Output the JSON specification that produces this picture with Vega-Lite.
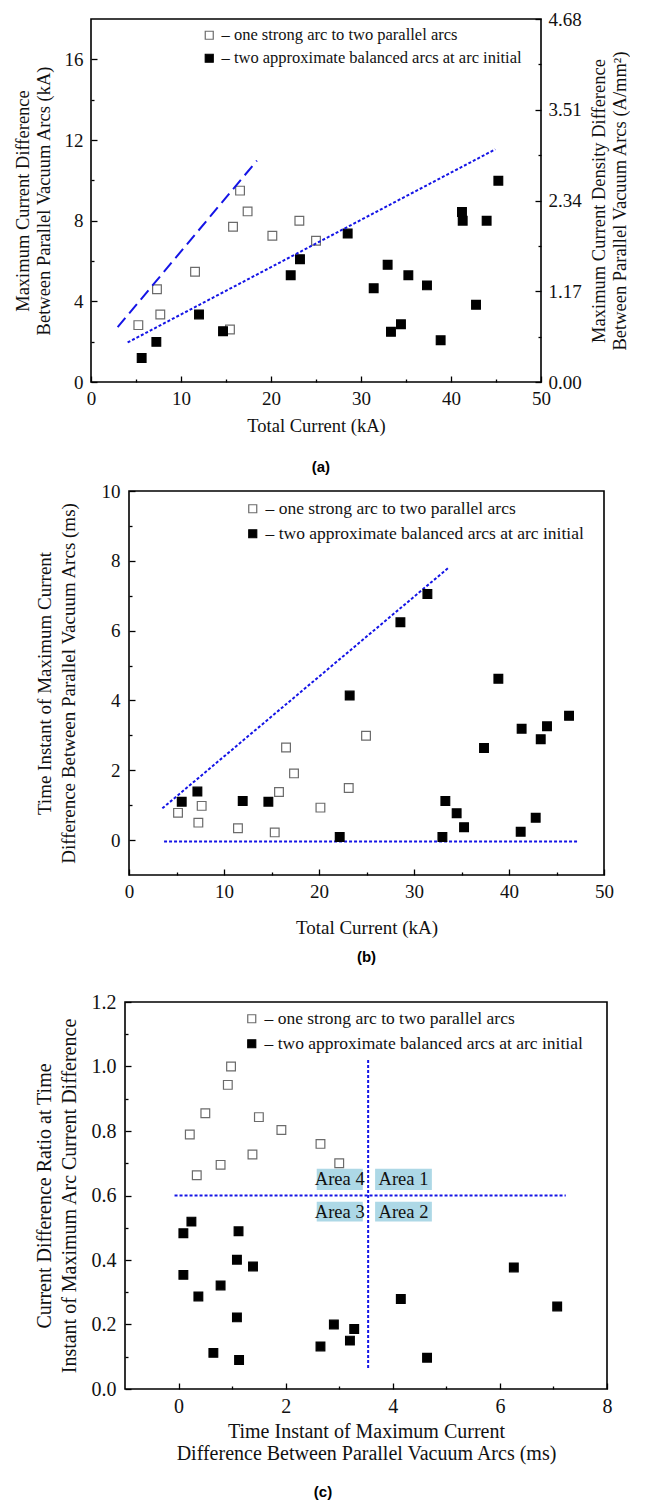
{
  "$schema": "https://vega.github.io/schema/vega-lite/v6.json",
  "padding": {"left": 11, "top": 9, "right": 0, "bottom": 0},
  "background": "white",
  "config": {
    "view": {"stroke": "black", "strokeWidth": 1.6},
    "font": "Liberation Serif",
    "axis": {
      "domain": false, "grid": false,
      "labelFont": "Liberation Serif", "labelFontSize": 19, "labelColor": "#111111",
      "titleFont": "Liberation Serif", "titleFontSize": 18.5, "titleFontWeight": "normal", "titleColor": "#111111",
      "tickColor": "black", "tickWidth": 1.3, "labelFlush": false, "labelOverlap": false
    },
    "legend": {
      "labelFont": "Liberation Serif", "labelFontSize": 16.5, "labelColor": "#111111", "labelLimit": 600,
      "symbolType": "square", "symbolSize": 64, "symbolStrokeWidth": 1.2,
      "labelOffset": 4, "rowPadding": 6, "padding": 0
    },
    "title": {"font": "Liberation Sans", "fontWeight": "bold", "fontSize": 15, "color": "black"}
  },
  "datasets": {
    "a_pts": [
      {"I": 5.26, "dI": 2.82, "type": "one strong arc to two parallel arcs"},
      {"I": 7.33, "dI": 4.6, "type": "one strong arc to two parallel arcs"},
      {"I": 7.7, "dI": 3.35, "type": "one strong arc to two parallel arcs"},
      {"I": 11.56, "dI": 5.47, "type": "one strong arc to two parallel arcs"},
      {"I": 15.44, "dI": 2.6, "type": "one strong arc to two parallel arcs"},
      {"I": 15.78, "dI": 7.7, "type": "one strong arc to two parallel arcs"},
      {"I": 16.56, "dI": 9.49, "type": "one strong arc to two parallel arcs"},
      {"I": 17.4, "dI": 8.46, "type": "one strong arc to two parallel arcs"},
      {"I": 20.15, "dI": 7.25, "type": "one strong arc to two parallel arcs"},
      {"I": 23.15, "dI": 8.0, "type": "one strong arc to two parallel arcs"},
      {"I": 25.0, "dI": 7.0, "type": "one strong arc to two parallel arcs"},
      {"I": 5.63, "dI": 1.19, "type": "two approximate balanced arcs at arc initial"},
      {"I": 7.26, "dI": 1.99, "type": "two approximate balanced arcs at arc initial"},
      {"I": 12.0, "dI": 3.35, "type": "two approximate balanced arcs at arc initial"},
      {"I": 14.67, "dI": 2.52, "type": "two approximate balanced arcs at arc initial"},
      {"I": 22.19, "dI": 5.29, "type": "two approximate balanced arcs at arc initial"},
      {"I": 23.22, "dI": 6.09, "type": "two approximate balanced arcs at arc initial"},
      {"I": 28.52, "dI": 7.36, "type": "two approximate balanced arcs at arc initial"},
      {"I": 31.41, "dI": 4.65, "type": "two approximate balanced arcs at arc initial"},
      {"I": 32.96, "dI": 5.81, "type": "two approximate balanced arcs at arc initial"},
      {"I": 33.33, "dI": 2.49, "type": "two approximate balanced arcs at arc initial"},
      {"I": 34.44, "dI": 2.86, "type": "two approximate balanced arcs at arc initial"},
      {"I": 35.26, "dI": 5.29, "type": "two approximate balanced arcs at arc initial"},
      {"I": 37.33, "dI": 4.79, "type": "two approximate balanced arcs at arc initial"},
      {"I": 38.85, "dI": 2.07, "type": "two approximate balanced arcs at arc initial"},
      {"I": 41.22, "dI": 8.43, "type": "two approximate balanced arcs at arc initial"},
      {"I": 41.3, "dI": 8.0, "type": "two approximate balanced arcs at arc initial"},
      {"I": 42.78, "dI": 3.83, "type": "two approximate balanced arcs at arc initial"},
      {"I": 43.96, "dI": 8.0, "type": "two approximate balanced arcs at arc initial"},
      {"I": 45.26, "dI": 9.98, "type": "two approximate balanced arcs at arc initial"}
    ],
    "a_lines": [
      {"line": "dashed", "I": 2.96, "dI": 2.72},
      {"line": "dashed", "I": 18.44, "dI": 10.98},
      {"line": "dotted", "I": 4.07, "dI": 1.96},
      {"line": "dotted", "I": 44.93, "dI": 11.54}
    ],
    "b_pts": [
      {"I": 5.16, "t": 0.78, "type": "one strong arc to two parallel arcs"},
      {"I": 7.3, "t": 0.5, "type": "one strong arc to two parallel arcs"},
      {"I": 7.65, "t": 0.98, "type": "one strong arc to two parallel arcs"},
      {"I": 11.47, "t": 0.34, "type": "one strong arc to two parallel arcs"},
      {"I": 15.34, "t": 0.22, "type": "one strong arc to two parallel arcs"},
      {"I": 15.79, "t": 1.38, "type": "one strong arc to two parallel arcs"},
      {"I": 16.53, "t": 2.65, "type": "one strong arc to two parallel arcs"},
      {"I": 17.37, "t": 1.91, "type": "one strong arc to two parallel arcs"},
      {"I": 20.15, "t": 0.93, "type": "one strong arc to two parallel arcs"},
      {"I": 23.13, "t": 1.49, "type": "one strong arc to two parallel arcs"},
      {"I": 24.95, "t": 2.99, "type": "one strong arc to two parallel arcs"},
      {"I": 5.55, "t": 1.1, "type": "two approximate balanced arcs at arc initial"},
      {"I": 7.2, "t": 1.39, "type": "two approximate balanced arcs at arc initial"},
      {"I": 11.97, "t": 1.12, "type": "two approximate balanced arcs at arc initial"},
      {"I": 14.67, "t": 1.1, "type": "two approximate balanced arcs at arc initial"},
      {"I": 22.18, "t": 0.09, "type": "two approximate balanced arcs at arc initial"},
      {"I": 23.23, "t": 4.14, "type": "two approximate balanced arcs at arc initial"},
      {"I": 28.57, "t": 6.24, "type": "two approximate balanced arcs at arc initial"},
      {"I": 31.41, "t": 7.05, "type": "two approximate balanced arcs at arc initial"},
      {"I": 32.99, "t": 0.09, "type": "two approximate balanced arcs at arc initial"},
      {"I": 33.3, "t": 1.12, "type": "two approximate balanced arcs at arc initial"},
      {"I": 34.49, "t": 0.77, "type": "two approximate balanced arcs at arc initial"},
      {"I": 35.27, "t": 0.37, "type": "two approximate balanced arcs at arc initial"},
      {"I": 37.37, "t": 2.64, "type": "two approximate balanced arcs at arc initial"},
      {"I": 38.88, "t": 4.62, "type": "two approximate balanced arcs at arc initial"},
      {"I": 41.23, "t": 0.24, "type": "two approximate balanced arcs at arc initial"},
      {"I": 41.33, "t": 3.19, "type": "two approximate balanced arcs at arc initial"},
      {"I": 42.81, "t": 0.64, "type": "two approximate balanced arcs at arc initial"},
      {"I": 43.34, "t": 2.89, "type": "two approximate balanced arcs at arc initial"},
      {"I": 44.0, "t": 3.26, "type": "two approximate balanced arcs at arc initial"},
      {"I": 46.32, "t": 3.56, "type": "two approximate balanced arcs at arc initial"}
    ],
    "b_lines": [
      {"seg": "diagonal", "I": 3.51, "t": 0.91},
      {"seg": "diagonal", "I": 33.58, "t": 7.79},
      {"seg": "zero", "I": 3.69, "t": -0.04},
      {"seg": "zero", "I": 47.26, "t": -0.04}
    ],
    "c_pts": [
      {"t": 0.21, "r": 0.789, "type": "one strong arc to two parallel arcs"},
      {"t": 0.34, "r": 0.663, "type": "one strong arc to two parallel arcs"},
      {"t": 0.5, "r": 0.855, "type": "one strong arc to two parallel arcs"},
      {"t": 0.785, "r": 0.695, "type": "one strong arc to two parallel arcs"},
      {"t": 0.92, "r": 0.943, "type": "one strong arc to two parallel arcs"},
      {"t": 0.98, "r": 1.0, "type": "one strong arc to two parallel arcs"},
      {"t": 1.38, "r": 0.727, "type": "one strong arc to two parallel arcs"},
      {"t": 1.5, "r": 0.843, "type": "one strong arc to two parallel arcs"},
      {"t": 1.92, "r": 0.803, "type": "one strong arc to two parallel arcs"},
      {"t": 2.65, "r": 0.76, "type": "one strong arc to two parallel arcs"},
      {"t": 3.0, "r": 0.7, "type": "one strong arc to two parallel arcs"},
      {"t": 0.09, "r": 0.483, "type": "two approximate balanced arcs at arc initial"},
      {"t": 0.24, "r": 0.519, "type": "two approximate balanced arcs at arc initial"},
      {"t": 0.09, "r": 0.354, "type": "two approximate balanced arcs at arc initial"},
      {"t": 0.37, "r": 0.287, "type": "two approximate balanced arcs at arc initial"},
      {"t": 0.65, "r": 0.112, "type": "two approximate balanced arcs at arc initial"},
      {"t": 0.785, "r": 0.321, "type": "two approximate balanced arcs at arc initial"},
      {"t": 1.09, "r": 0.401, "type": "two approximate balanced arcs at arc initial"},
      {"t": 1.12, "r": 0.489, "type": "two approximate balanced arcs at arc initial"},
      {"t": 1.09, "r": 0.222, "type": "two approximate balanced arcs at arc initial"},
      {"t": 1.13, "r": 0.09, "type": "two approximate balanced arcs at arc initial"},
      {"t": 1.39, "r": 0.38, "type": "two approximate balanced arcs at arc initial"},
      {"t": 2.65, "r": 0.132, "type": "two approximate balanced arcs at arc initial"},
      {"t": 2.9, "r": 0.2, "type": "two approximate balanced arcs at arc initial"},
      {"t": 3.2, "r": 0.15, "type": "two approximate balanced arcs at arc initial"},
      {"t": 3.28, "r": 0.186, "type": "two approximate balanced arcs at arc initial"},
      {"t": 4.15, "r": 0.279, "type": "two approximate balanced arcs at arc initial"},
      {"t": 4.64, "r": 0.097, "type": "two approximate balanced arcs at arc initial"},
      {"t": 6.26, "r": 0.377, "type": "two approximate balanced arcs at arc initial"},
      {"t": 7.07, "r": 0.256, "type": "two approximate balanced arcs at arc initial"}
    ],
    "c_lines": [
      {"seg": "h", "t": -0.075, "r": 0.6},
      {"seg": "h", "t": 7.23, "r": 0.6},
      {"seg": "v", "t": 3.54, "r": 1.02},
      {"seg": "v", "t": 3.54, "r": 0.059}
    ],
    "c_areas": [
      {"label": "Area 4", "t": 3.01, "r": 0.65, "t1": 2.58, "t2": 3.44, "r1": 0.617, "r2": 0.683},
      {"label": "Area 1", "t": 4.2, "r": 0.65, "t1": 3.67, "t2": 4.73, "r1": 0.617, "r2": 0.683},
      {"label": "Area 3", "t": 3.01, "r": 0.55, "t1": 2.58, "t2": 3.44, "r1": 0.519, "r2": 0.581},
      {"label": "Area 2", "t": 4.2, "r": 0.55, "t1": 3.67, "t2": 4.73, "r1": 0.519, "r2": 0.581}
    ]
  },
  "concat": [
    {
      "hconcat": [
        {
          "width": 1, "height": 10, "view": {"stroke": null},
          "data": {"values": [{}]},
          "mark": {"type": "point", "opacity": 0, "size": 0},
          "encoding": {}
        },
        {
          "width": 450,
          "height": 363,
          "title": {"text": "(a)", "orient": "bottom", "frame": "bounds", "anchor": "middle", "baseline": "top", "offset": 25},
          "resolve": {"axis": {"x": "independent", "y": "independent"}},
          "layer": [
            {
              "data": {"name": "a_pts"},
              "mark": {"type": "point", "shape": "square", "filled": true, "size": 76, "strokeWidth": 1.2, "opacity": 1},
              "encoding": {
                "x": {"field": "I", "type": "quantitative",
                  "scale": {"domain": [0, 50], "nice": false, "zero": false},
                  "axis": {"orient": "bottom", "values": [0, 10, 20, 30, 40, 50], "tickSize": -6, "labelPadding": 13, "title": "Total Current (kA)", "titlePadding": 8}},
                "y": {"field": "dI", "type": "quantitative",
                  "scale": {"domain": [0, 18], "nice": false, "zero": false},
                  "axis": {"orient": "left", "values": [0, 4, 8, 12, 16], "tickSize": -6, "labelPadding": 14, "title": ["Maximum Current Difference", "Between Parallel Vacuum Arcs (kA)"], "titleLineHeight": 21, "titlePadding": 11}},
                "fill": {"field": "type", "type": "nominal",
                  "scale": {"domain": ["one strong arc to two parallel arcs", "two approximate balanced arcs at arc initial"], "range": ["white", "black"]},
                  "legend": {"title": null, "orient": "none", "legendX": 110, "legendY": 8, "labelExpr": "'– ' + datum.label"}},
                "stroke": {"field": "type", "type": "nominal",
                  "scale": {"domain": ["one strong arc to two parallel arcs", "two approximate balanced arcs at arc initial"], "range": ["#6b6b6b", "black"]},
                  "legend": {"title": null, "orient": "none", "legendX": 110, "legendY": 8, "labelExpr": "'– ' + datum.label"}}
              }
            },
            {
              "data": {"name": "a_lines"},
              "transform": [{"filter": "datum.line === 'dashed'"}],
              "mark": {"type": "line", "color": "#1414e6", "strokeWidth": 2, "strokeDash": [12, 6]},
              "encoding": {
                "x": {"field": "I", "type": "quantitative",
                  "axis": {"orient": "bottom", "values": [5, 15, 25, 35, 45], "tickSize": -3, "labels": false, "title": null}},
                "y": {"field": "dI", "type": "quantitative",
                  "axis": {"orient": "right", "values": [0, 4.5, 9, 13.5, 18], "labelExpr": "format(datum.value * 0.26, '.2f')", "tickSize": -6, "labelPadding": 13, "title": ["Maximum Current Density Difference", "Between Parallel Vacuum Arcs (A/mm²)"], "titleAngle": 270, "titleBaseline": "top", "titleLineHeight": 21, "titlePadding": -13}}
              }
            },
            {
              "data": {"name": "a_lines"},
              "transform": [{"filter": "datum.line === 'dotted'"}],
              "mark": {"type": "line", "color": "#1414e6", "strokeWidth": 2, "strokeDash": [3, 2]},
              "encoding": {
                "x": {"field": "I", "type": "quantitative", "axis": null},
                "y": {"field": "dI", "type": "quantitative",
                  "axis": {"orient": "left", "values": [2, 6, 10, 14], "tickSize": -3, "labels": false, "title": null}}
              }
            },
            {
              "data": {"name": "a_lines"},
              "transform": [{"filter": "datum.line === 'dotted'"}],
              "mark": {"type": "line", "opacity": 0},
              "encoding": {
                "x": {"field": "I", "type": "quantitative", "axis": null},
                "y": {"field": "dI", "type": "quantitative",
                  "axis": {"orient": "right", "values": [2.25, 6.75, 11.25, 15.75], "tickSize": -3, "labels": false, "title": null}}
              }
            }
          ]
        }
      ],
      "spacing": 0,
      "resolve": {"scale": {"fill": "independent", "stroke": "independent"}}
    },
    {
      "hconcat": [
        {
          "width": 23, "height": 495, "view": {"stroke": null},
          "data": {"values": [{}]},
          "mark": {"type": "point", "opacity": 0, "size": 0},
          "encoding": {}
        },
        {
          "width": 475,
          "height": 384,
          "title": {"text": "(b)", "orient": "bottom", "frame": "group", "anchor": "middle", "baseline": "top", "offset": 13},
          "resolve": {"axis": {"x": "independent", "y": "independent"}},
          "layer": [
            {
              "data": {"name": "b_lines"},
              "mark": {"type": "line", "color": "#1414e6", "strokeWidth": 2, "strokeDash": [3, 2]},
              "encoding": {
                "detail": {"field": "seg"},
                "x": {"field": "I", "type": "quantitative",
                  "axis": {"orient": "bottom", "values": [5, 15, 25, 35, 45], "tickSize": -3, "labels": false, "title": null}},
                "y": {"field": "t", "type": "quantitative",
                  "axis": {"orient": "left", "values": [1, 3, 5, 7, 9], "tickSize": -3, "labels": false, "title": null}}
              }
            },
            {
              "data": {"name": "b_pts"},
              "mark": {"type": "point", "shape": "square", "filled": true, "size": 76, "strokeWidth": 1.2, "opacity": 1},
              "encoding": {
                "x": {"field": "I", "type": "quantitative",
                  "scale": {"domain": [0, 50], "nice": false, "zero": false},
                  "axis": {"orient": "bottom", "values": [0, 10, 20, 30, 40, 50], "tickSize": -6, "labelPadding": 13, "title": "Total Current (kA)", "titleFontSize": 19, "titlePadding": 17}},
                "y": {"field": "t", "type": "quantitative",
                  "scale": {"domain": [-1, 10], "nice": false, "zero": false},
                  "axis": {"orient": "left", "values": [0, 2, 4, 6, 8, 10], "tickSize": -6, "labelPadding": 15, "title": ["Time Instant of Maximum Current", "Difference Between Parallel Vacuum Arcs (ms)"], "titleFontSize": 19, "titleLineHeight": 24.6, "titlePadding": 22}},
                "fill": {"field": "type", "type": "nominal",
                  "scale": {"domain": ["one strong arc to two parallel arcs", "two approximate balanced arcs at arc initial"], "range": ["white", "black"]},
                  "legend": {"title": null, "orient": "none", "legendX": 115, "legendY": 9, "labelFontSize": 17.5, "labelExpr": "'– ' + datum.label"}},
                "stroke": {"field": "type", "type": "nominal",
                  "scale": {"domain": ["one strong arc to two parallel arcs", "two approximate balanced arcs at arc initial"], "range": ["#6b6b6b", "black"]},
                  "legend": {"title": null, "orient": "none", "legendX": 115, "legendY": 9, "labelFontSize": 17.5, "labelExpr": "'– ' + datum.label"}}
              }
            }
          ]
        }
      ],
      "spacing": 0,
      "resolve": {"scale": {"fill": "independent", "stroke": "independent"}}
    },
    {
      "hconcat": [
        {
          "width": 22, "height": 10, "view": {"stroke": null},
          "data": {"values": [{}]},
          "mark": {"type": "point", "opacity": 0, "size": 0},
          "encoding": {}
        },
        {
          "width": 482,
          "height": 387,
          "title": {"text": "(c)", "orient": "bottom", "frame": "bounds", "anchor": "middle", "baseline": "top", "offset": 22},
          "resolve": {"axis": {"x": "independent", "y": "independent"}},
          "layer": [
            {
              "data": {"name": "c_lines"},
              "mark": {"type": "line", "color": "#1414e6", "strokeWidth": 2, "strokeDash": [3, 2]},
              "encoding": {
                "detail": {"field": "seg"},
                "x": {"field": "t", "type": "quantitative",
                  "axis": {"orient": "bottom", "values": [1, 3, 5, 7], "tickSize": -3, "labels": false, "title": null}},
                "y": {"field": "r", "type": "quantitative",
                  "axis": {"orient": "left", "values": [0.1, 0.3, 0.5, 0.7, 0.9, 1.1], "tickSize": -3, "labels": false, "title": null}}
              }
            },
            {
              "data": {"name": "c_areas"},
              "mark": {"type": "rect", "color": "#add8e6", "opacity": 1},
              "encoding": {
                "x": {"field": "t1", "type": "quantitative", "axis": null},
                "x2": {"field": "t2"},
                "y": {"field": "r1", "type": "quantitative", "axis": null},
                "y2": {"field": "r2"}
              }
            },
            {
              "data": {"name": "c_areas"},
              "mark": {"type": "text", "font": "Liberation Serif", "fontSize": 18.5, "color": "#111111", "align": "center", "baseline": "middle"},
              "encoding": {
                "x": {"field": "t", "type": "quantitative", "axis": null},
                "y": {"field": "r", "type": "quantitative", "axis": null},
                "text": {"field": "label"}
              }
            },
            {
              "data": {"name": "c_pts"},
              "mark": {"type": "point", "shape": "square", "filled": true, "size": 76, "strokeWidth": 1.2, "opacity": 1},
              "encoding": {
                "x": {"field": "t", "type": "quantitative",
                  "scale": {"domain": [-1, 8], "nice": false, "zero": false},
                  "axis": {"orient": "bottom", "values": [0, 2, 4, 6, 8], "tickSize": -6, "labelPadding": 13, "labelFontSize": 20, "title": ["Time Instant of Maximum Current", "Difference Between Parallel Vacuum Arcs (ms)"], "titleFontSize": 20, "titleLineHeight": 22, "titlePadding": 5}},
                "y": {"field": "r", "type": "quantitative",
                  "scale": {"domain": [0, 1.2], "nice": false, "zero": false},
                  "axis": {"orient": "left", "values": [0, 0.2, 0.4, 0.6, 0.8, 1.0, 1.2], "format": ".1f", "tickSize": -6, "labelPadding": 15, "labelFontSize": 20, "title": ["Current Difference Ratio at Time", "Instant of Maximum Arc Current Difference"], "titleFontSize": 20, "titleLineHeight": 25, "titlePadding": 12}},
                "fill": {"field": "type", "type": "nominal",
                  "scale": {"domain": ["one strong arc to two parallel arcs", "two approximate balanced arcs at arc initial"], "range": ["white", "black"]},
                  "legend": {"title": null, "orient": "none", "legendX": 118, "legendY": 8, "labelFontSize": 17.5, "labelExpr": "'– ' + datum.label"}},
                "stroke": {"field": "type", "type": "nominal",
                  "scale": {"domain": ["one strong arc to two parallel arcs", "two approximate balanced arcs at arc initial"], "range": ["#6b6b6b", "black"]},
                  "legend": {"title": null, "orient": "none", "legendX": 118, "legendY": 8, "labelFontSize": 17.5, "labelExpr": "'– ' + datum.label"}}
              }
            }
          ]
        }
      ],
      "spacing": 0,
      "resolve": {"scale": {"fill": "independent", "stroke": "independent"}}
    }
  ],
  "columns": 1,
  "align": "none",
  "spacing": 5,
  "resolve": {"scale": {"fill": "independent", "stroke": "independent"}}
}
